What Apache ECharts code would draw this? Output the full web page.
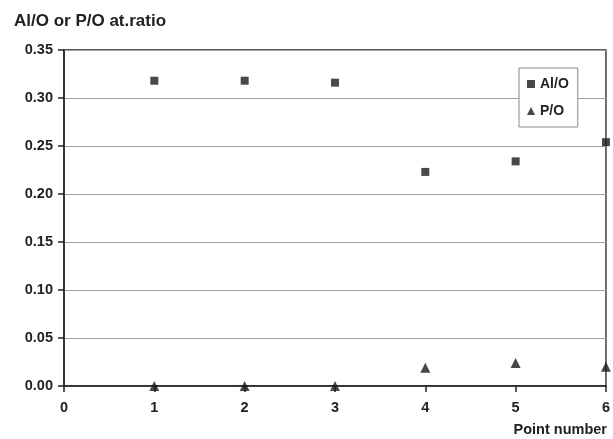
<!DOCTYPE html>
<html>
<head>
<meta charset="utf-8">
<script src="https://cdn.jsdelivr.net/npm/echarts@6/dist/echarts.min.js"></script>
<style>html,body{margin:0;padding:0;background:#fff}#c{width:613px;height:439px}</style>
</head>
<body>
<div id="c"></div>
<script>
const pointNumbers = [1, 2, 3, 4, 5, 6];
const alO = [0.318, 0.318, 0.316, 0.223, 0.234, 0.254];
const pO = [0.000, 0.000, 0.000, 0.019, 0.024, 0.020];
const seriesNames = ['Al/O', 'P/O'];
const yTitle = 'Al/O or P/O at.ratio';
const xTitle = 'Point number';

const chart = echarts.init(document.getElementById('c'), null, {renderer: 'canvas'});
const font = '"Liberation Sans", Arial, sans-serif';
chart.setOption({
  animation: false,
  backgroundColor: '#fff',
  title: [
    {text: yTitle, left: 9, top: 8, textStyle: {fontFamily: font, fontSize: 17, fontWeight: 'bold', color: '#222'}},
    {text: xTitle, right: 1, top: 417, textStyle: {fontFamily: font, fontSize: 14.5, fontWeight: 'bold', color: '#222'}}
  ],
  grid: {left: 64, right: 5, top: 50, bottom: 53, show: true, borderColor: '#222', borderWidth: 1.3, backgroundColor: 'transparent'},
  legend: {
    orient: 'vertical', left: 519, top: 68,
    data: [{name: seriesNames[0], icon: 'rect'}, {name: seriesNames[1], icon: 'triangle'}],
    itemWidth: 8, itemHeight: 8, itemGap: 13,
    borderColor: '#888', borderWidth: 1, padding: [9, 9, 9, 8],
    backgroundColor: '#fff',
    textStyle: {fontFamily: font, fontSize: 14, fontWeight: 'bold', color: '#222', padding: [0, 0, 0, 0]}
  },
  xAxis: {
    type: 'value', min: 0, max: 6, interval: 1,
    axisLine: {show: true, lineStyle: {color: '#222', width: 1.5}},
    axisTick: {show: true, length: 6, lineStyle: {color: '#222', width: 1.5}},
    axisLabel: {fontFamily: font, fontSize: 14.5, fontWeight: 'bold', color: '#222', margin: 14},
    splitLine: {show: false}
  },
  yAxis: {
    type: 'value', min: 0, max: 0.35, interval: 0.05,
    axisLine: {show: true, lineStyle: {color: '#222', width: 1.5}},
    axisTick: {show: true, length: 6, lineStyle: {color: '#222', width: 1.5}},
    axisLabel: {fontFamily: font, fontSize: 14.5, fontWeight: 'bold', color: '#222', margin: 11, formatter: v => v.toFixed(2)},
    splitLine: {show: true, lineStyle: {color: '#a0a0a0', width: 1}}
  },
  series: [
    {name: seriesNames[0], type: 'scatter', symbol: 'rect', symbolSize: 8,
     itemStyle: {color: '#1a1a1a'}, data: pointNumbers.map((x, i) => [x, alO[i]])},
    {name: seriesNames[1], type: 'scatter', symbol: 'triangle', symbolSize: 10,
     itemStyle: {color: '#1a1a1a'}, data: pointNumbers.map((x, i) => [x, pO[i]])}
  ]
});
</script>
</body>
</html>
